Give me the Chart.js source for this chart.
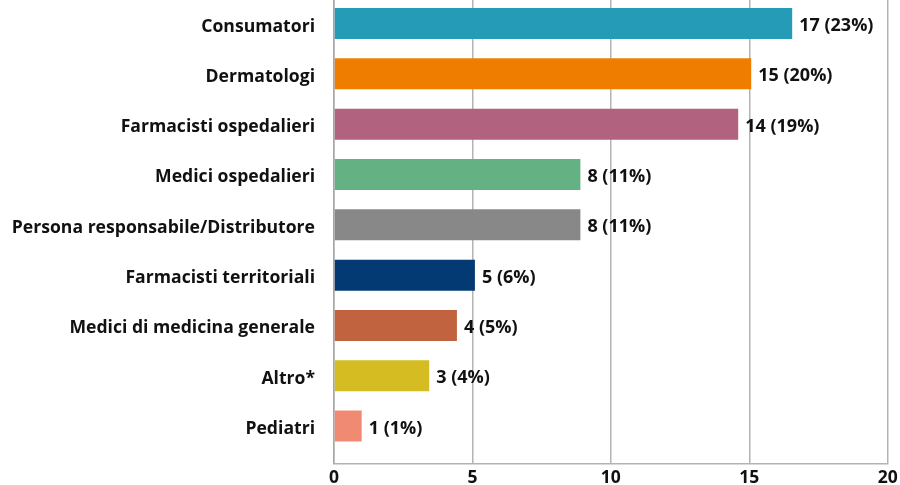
<!DOCTYPE html>
<html>
<head>
<meta charset="utf-8">
<script src="https://cdn.jsdelivr.net/npm/chart.js@4"></script>
<style>
html,body{margin:0;padding:0;background:#fff;}
#wrap{width:900px;height:485px;}
</style>
</head>
<body>
<div id="wrap"><canvas id="c" width="900" height="485"></canvas></div>
<script>
const categories = ["Consumatori","Dermatologi","Farmacisti ospedalieri","Medici ospedalieri","Persona responsabile/Distributore","Farmacisti territoriali","Medici di medicina generale","Altro*","Pediatri"];
const barValues = [16.55, 15.07, 14.6, 8.9, 8.9, 5.09, 4.44, 3.44, 1.0];
const valueLabels = ["17 (23%)","15 (20%)","14 (19%)","8 (11%)","8 (11%)","5 (6%)","4 (5%)","3 (4%)","1 (1%)"];
const barColors = ["#259bb8","#ee7d00","#b0627e","#64b283","#888888","#033a73","#c1633f","#d5bc22","#f08a73"];
const xTicks = [0,5,10,15,20];

const FONT = "'Open Sans', 'Noto Sans', sans-serif";

const labelPlugin = {
  id: 'valueLabels',
  afterDatasetsDraw(chart){
    const ctx = chart.ctx;
    const meta = chart.getDatasetMeta(0);
    ctx.save();
    ctx.font = "bold 18px " + FONT;
    ctx.fillStyle = "#111";
    ctx.textBaseline = "middle";
    ctx.textAlign = "left";
    meta.data.forEach((bar, i) => {
      ctx.fillText(valueLabels[i], bar.x + 7, bar.y + 2.5);
    });
    ctx.restore();
  }
};

new Chart(document.getElementById('c'), {
  type: 'bar',
  data: {
    datasets: [{
      data: barValues.map((v, i) => ({x: v, y: i})),
      backgroundColor: barColors,
      borderWidth: 0,
      barPercentage: 0.616,
      categoryPercentage: 1.0
    }]
  },
  plugins: [labelPlugin],
  options: {
    indexAxis: 'y',
    responsive: false,
    animation: false,
    layout: { padding: { left: 12, right: 12.3, top: 0, bottom: 0 } },
    plugins: { legend: { display: false }, tooltip: { enabled: false } },
    scales: {
      x: {
        type: 'linear',
        min: 0, max: 20,
        afterBuildTicks(scale){ scale.ticks = xTicks.map(v => ({value: v})); },
        afterFit(scale){ scale.paddingLeft = 0; scale.paddingRight = 0; scale.height = 21.5; },
        grid: { color: '#b3b3b3', lineWidth: 1.5, drawTicks: false },
        border: { color: '#b3b3b3', width: 1.5 },
        ticks: { font: { family: FONT, size: 17.5, weight: 'bold' }, color: '#111', padding: 4.5, maxRotation: 0 }
      },
      y: {
        type: 'linear',
        reverse: true,
        offset: false,
        min: -0.467, max: 8.743,
        afterBuildTicks(scale){ scale.ticks = categories.map((c, i) => ({value: i})); },
        afterFit(scale){ scale.width = 322; scale.paddingTop = 0; scale.paddingBottom = 0; },
        grid: { display: false, drawTicks: false, offset: false },
        border: { color: '#a6a6a6', width: 1.5 },
        ticks: {
          callback: (v) => categories[v] !== undefined ? categories[v] : '',
          font: { family: FONT, size: 17.6, weight: 'bold' }, color: '#111', padding: 19, autoSkip: false,
          labelOffset: 3
        }
      }
    }
  }
});
</script>
</body>
</html>
